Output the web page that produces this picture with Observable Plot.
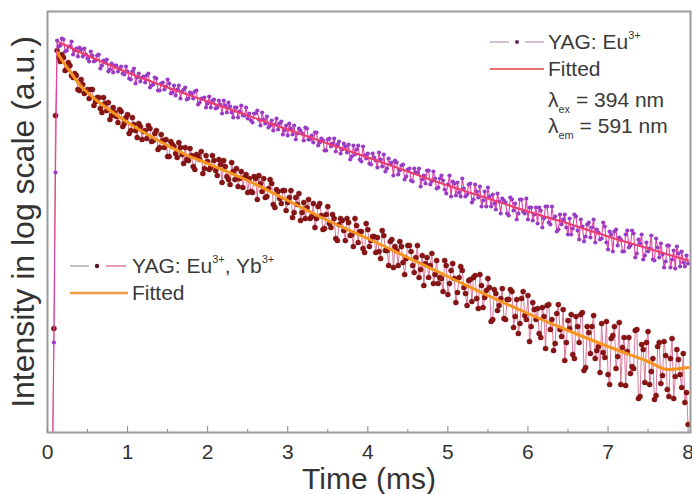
<!DOCTYPE html>
<html><head><meta charset="utf-8">
<script src="https://cdn.jsdelivr.net/npm/d3@7"></script>
<script src="https://cdn.jsdelivr.net/npm/@observablehq/plot@0.6"></script>
<style>
body{margin:0;background:#fff;}
#wrap{position:relative;width:692px;height:494px;font-family:"Liberation Sans",Arial,sans-serif;color:#3a3a3a;overflow:hidden;}
.lg{position:absolute;font-size:21px;line-height:24px;white-space:nowrap;}
.lg sup{font-size:11px;vertical-align:0;position:relative;top:-10px;}
.lg sub{font-size:11px;vertical-align:0;position:relative;top:6px;}
svg.s{position:absolute;overflow:visible;}
</style></head>
<body><div id="wrap"></div>
<script>
// sampling grids (ms): rise at the excitation pulse, then two interleaved sample sets
const riseTime = [0.06, 0.08, 0.10];
const gridTimeA = d3.range(198).map(i => +(0.12 + 0.04 * i).toFixed(2));
const gridTimeB = d3.range(197).map(i => +(0.14 + 0.04 * i).toFixed(2));

// log10 intensity (a.u.) — YAG: Eu3+
const riseEu = [-0.5, 0.90, 2.60];
const valuesEuA = [
 3.92,3.87,3.93,3.82,3.86,3.78,3.84,3.85,3.76,3.78,
 3.71,3.77,3.72,3.78,3.67,3.70,3.61,3.69,3.67,3.61,
 3.66,3.58,3.61,3.53,3.64,3.55,3.51,3.56,3.57,3.45,
 3.48,3.54,3.42,3.50,3.46,3.49,3.40,3.37,3.47,3.41,
 3.45,3.34,3.39,3.41,3.28,3.34,3.35,3.29,3.25,3.33,
 3.25,3.28,3.32,3.20,3.26,3.15,3.25,3.21,3.17,3.25,
 3.19,3.10,3.19,3.13,3.20,3.09,3.05,3.12,3.08,3.03,
 3.11,3.02,2.97,3.04,3.07,2.99,3.02,2.92,3.04,2.93,
 2.90,3.00,2.90,2.92,2.82,2.94,2.89,2.81,2.91,2.83,
 2.86,2.88,2.76,2.78,2.87,2.71,2.77,2.79,2.68,2.75,
 2.65,2.73,2.78,2.64,2.68,2.57,2.70,2.62,2.68,2.56,
 2.64,2.51,2.60,2.64,2.53,2.49,2.62,2.51,2.54,2.45,
 2.57,2.43,2.48,2.36,2.49,2.50,2.36,2.44,2.38,2.49,
 2.33,2.41,2.46,2.32,2.26,2.36,2.38,2.23,2.31,2.34,
 2.30,2.17,2.33,2.29,2.19,2.33,2.19,2.13,2.25,2.18,
 2.09,2.22,2.14,2.26,2.08,2.14,2.01,2.18,2.13,2.05,
 2.14,2.04,2.16,1.93,2.06,1.96,2.10,2.05,1.90,2.00,
 1.94,2.06,1.83,1.98,2.01,1.87,1.93,1.81,2.02,1.87,
 1.99,1.79,1.89,1.73,1.90,1.84,1.73,1.94,1.75,1.78,
 1.71,1.87,1.73,1.64,1.79,1.81,1.66,1.69
];
const valuesEuB = [
 3.86,3.94,3.81,3.86,3.91,3.82,3.76,3.83,3.84,3.74,
 3.81,3.71,3.77,3.64,3.72,3.73,3.63,3.60,3.67,3.64,
 3.59,3.66,3.54,3.61,3.49,3.59,3.55,3.50,3.59,3.47,
 3.55,3.42,3.49,3.43,3.53,3.39,3.47,3.43,3.34,3.43,
 3.33,3.40,3.34,3.42,3.30,3.34,3.25,3.36,3.32,3.24,
 3.32,3.19,3.27,3.30,3.20,3.25,3.15,3.27,3.17,3.14,
 3.12,3.19,3.22,3.07,3.13,3.16,3.07,3.02,3.14,3.09,
 2.98,3.07,3.09,2.98,2.93,3.04,2.99,3.05,2.93,2.97,
 3.00,2.87,2.94,2.82,2.93,2.86,2.94,2.88,2.79,2.89,
 2.80,2.73,2.87,2.83,2.73,2.86,2.74,2.69,2.79,2.72,
 2.80,2.66,2.61,2.74,2.70,2.72,2.58,2.67,2.53,2.63,
 2.52,2.64,2.60,2.46,2.57,2.62,2.48,2.61,2.44,2.54,
 2.52,2.39,2.57,2.51,2.37,2.40,2.54,2.36,2.48,2.30,
 2.48,2.35,2.26,2.41,2.45,2.26,2.29,2.39,2.19,2.32,
 2.19,2.35,2.22,2.13,2.33,2.21,2.34,2.25,2.12,2.25,
 2.25,2.05,2.26,2.10,2.26,2.16,2.03,2.08,2.18,1.98,
 1.98,2.18,2.02,2.13,1.91,2.08,1.95,2.13,2.03,1.93,
 2.10,1.90,2.01,1.81,2.03,1.95,1.81,1.98,1.85,2.02,
 1.75,1.93,1.98,1.77,1.81,1.97,1.72,1.85,1.89,1.65,
 1.87,1.65,1.82,1.86,1.66,1.70,1.77
];

// YAG: Eu3+, Yb3+
const riseEuYb = [-0.5, 1.04, 3.17];
const valuesEuYbA = [
 3.82,3.71,3.75,3.63,3.67,3.55,3.57,3.42,3.48,3.41,
 3.34,3.43,3.31,3.35,3.20,3.29,3.30,3.17,3.20,3.10,
 3.21,3.09,3.18,3.02,3.08,2.95,3.06,3.01,2.94,3.04,
 2.92,3.02,2.85,2.92,2.93,2.76,2.88,2.79,2.90,2.78,
 2.85,2.72,2.77,2.63,2.77,2.81,2.64,2.71,2.65,2.72,
 2.57,2.68,2.72,2.56,2.48,2.61,2.64,2.54,2.45,2.58,
 2.54,2.40,2.54,2.57,2.41,2.35,2.44,2.49,2.25,2.41,
 2.29,2.42,2.30,2.42,2.20,2.28,2.12,2.30,2.25,2.14,
 2.29,2.14,2.29,2.03,2.18,2.09,2.18,1.94,2.08,2.12,
 1.92,2.10,1.98,2.14,1.90,2.01,1.80,2.03,1.92,1.96,
 1.95,1.74,1.97,1.82,1.91,1.65,1.82,1.91,1.70,1.74,
 1.87,1.67,1.75,1.55,1.77,1.69,1.55,1.79,1.58,1.49,
 1.54,1.72,1.38,1.62,1.54,1.40,1.66,1.45,1.27,1.53,
 1.55,1.34,1.58,1.25,1.42,1.45,1.13,1.39,1.27,1.44,
 1.13,1.33,1.41,1.16,0.99,1.34,1.17,1.37,1.06,1.23,
 1.24,0.95,1.16,1.27,1.03,0.82,1.19,1.03,1.23,0.90,
 1.04,0.78,1.16,0.90,1.20,0.65,1.00,1.06,0.74,0.86,
 1.09,0.75,0.58,0.94,1.06,0.76,0.48,0.95,0.81,0.59,
 0.64,1.03,0.36,0.83,0.90,0.48,0.74,0.37,0.90,0.57,
 0.77,0.36,0.94,0.56,0.73,0.45,0.30,0.08
];
const valuesEuYbB = [
 3.75,3.78,3.62,3.70,3.57,3.59,3.43,3.53,3.39,3.43,
 3.43,3.27,3.35,3.24,3.35,3.22,3.13,3.25,3.16,3.23,
 3.06,3.15,2.99,3.15,3.02,3.09,2.93,3.02,3.07,2.91,
 2.99,2.83,2.98,2.85,2.76,2.91,2.86,2.75,2.85,2.69,
 2.73,2.84,2.66,2.78,2.73,2.59,2.77,2.63,2.77,2.62,
 2.73,2.50,2.66,2.53,2.70,2.53,2.46,2.61,2.55,2.40,
 2.41,2.56,2.33,2.49,2.54,2.36,2.53,2.28,2.43,2.34,
 2.42,2.22,2.35,2.15,2.35,2.39,2.20,2.14,2.33,2.16,
 2.05,2.26,2.17,2.04,2.26,2.05,2.14,1.92,2.14,2.02,
 2.14,1.97,1.86,2.07,2.01,1.84,2.09,1.86,1.96,1.80,
 1.81,2.02,1.82,1.67,1.93,1.86,1.67,1.86,1.58,1.87,
 1.81,1.60,1.87,1.63,1.47,1.75,1.67,1.49,1.72,1.55,
 1.41,1.67,1.49,1.69,1.30,1.55,1.62,1.39,1.52,1.31,
 1.57,1.24,1.47,1.35,1.54,1.11,1.43,1.22,1.34,1.14,
 1.33,1.43,1.05,1.33,1.09,1.41,1.13,0.91,1.30,1.13,
 0.99,1.25,0.84,1.28,1.13,0.89,1.28,0.96,0.72,1.12,
 1.18,0.74,1.06,1.18,0.62,1.06,0.79,1.17,0.82,0.60,
 0.80,1.11,0.48,0.97,0.64,1.10,0.85,0.47,0.95,0.66,
 1.02,0.34,0.88,0.50,1.01,0.61,0.33,0.86,0.49,0.91,
 0.43,0.74,0.34,0.83,0.58,0.79,0.40
];

// fitted curves
const fitTimeEu = [0.15,0.5,1.0,1.5,2.0,2.5,3.0,3.5,4.0,4.5,5.0,5.5,6.0,6.5,7.0,7.5,8.0];
const fitEu = [3.90,3.77,3.60,3.45,3.31,3.17,3.03,2.89,2.75,2.61,2.47,2.34,2.21,2.09,1.96,1.84,1.72];
const fitTimeEuYb = [0.12,0.2,0.3,0.4,0.5,0.6,0.8,1.0,1.25,1.5,1.75,2.0,2.5,3.0,3.5,4.0,4.5,5.0,5.5,6.0,6.5,7.0,7.5,7.75,8.0];
const fitEuYb = [3.80,3.70,3.59,3.48,3.40,3.33,3.21,3.10,2.98,2.87,2.77,2.69,2.52,2.32,2.12,1.94,1.75,1.56,1.37,1.19,1.02,0.86,0.71,0.63,0.65];

const xMajor = [0,1,2,3,4,5,6,7,8];
const xMinor = [0.5,1.5,2.5,3.5,4.5,5.5,6.5,7.5];

function series(rise, a, b) {
  const rows = riseTime.map((t,i) => ({t, v: rise[i]}))
    .concat(gridTimeA.map((t,i) => ({t, v: a[i]})))
    .concat(gridTimeB.map((t,i) => ({t, v: b[i]})));
  return rows.sort((p, q) => p.t - q.t);
}
const eu = series(riseEu, valuesEuA, valuesEuB);
const euyb = series(riseEuYb, valuesEuYbA, valuesEuYbB);
const fEu = fitTimeEu.map((t,i) => ({t, v: fitEu[i]}));
const fEuYb = fitTimeEuYb.map((t,i) => ({t, v: fitEuYb[i]}));

const plot = Plot.plot({
  width: 692, height: 494,
  marginLeft: 47, marginRight: 2, marginTop: 11, marginBottom: 62,
  style: {fontFamily: "'Liberation Sans', Arial, sans-serif", color: "#333", background: "#fff"},
  x: {domain: [0, 8.03], label: null},
  y: {domain: [0, 4.21], axis: null},
  marks: [
    Plot.line(euyb, {x: "t", y: "v", stroke: "#d66a92", strokeWidth: 0.9, clip: true}),
    Plot.dot(euyb, {x: "t", y: "v", r: 2.6, fill: "#8a1414", stroke: "#6a0c0c", strokeWidth: 0.4, clip: true}),
    Plot.line(fEuYb, {x: "t", y: "v", curve: "monotone-x", stroke: "#f7941d", strokeWidth: 3, clip: true}),
    Plot.line(eu, {x: "t", y: "v", stroke: "#e0409c", strokeWidth: 1.1, clip: true}),
    Plot.dot(eu, {x: "t", y: "v", r: 2.1, fill: "#9a3cc6", clip: true}),
    Plot.line(fEu, {x: "t", y: "v", curve: "monotone-x", stroke: "#ea3c6e", strokeWidth: 2, clip: true}),
    Plot.frame({stroke: "#9a9a9a", strokeWidth: 2}),
    Plot.axisX({ticks: xMinor, tickSize: 3, dy: -3, tickFormat: () => "", stroke: "#888", label: null}),
    Plot.axisX({ticks: xMajor, tickSize: 6, dy: -6, tickFormat: () => "", stroke: "#888", label: null}),
    Plot.axisX({ticks: xMajor, tickSize: 0, tickPadding: 12, fontSize: 21, label: null, fill: "#333"}),
    Plot.text(["Time (ms)"], {frameAnchor: "bottom", dy: 56, fontSize: 30, fill: "#333"}),
    Plot.text(["Intensity in log scale (a.u.)"], {frameAnchor: "left", textAnchor: "middle", rotate: -90, dx: -24, fontSize: 32, fill: "#333"})
  ]
});
const wrap = document.getElementById("wrap");
wrap.appendChild(plot);

wrap.insertAdjacentHTML("beforeend", `
<svg class="s" style="left:0;top:0" width="692" height="494">
  <line x1="490" y1="42" x2="509" y2="42" stroke="#c9a8c8" stroke-width="1.5"/>
  <circle cx="517" cy="42" r="2" fill="#6a2a5a"/>
  <line x1="525" y1="42" x2="544" y2="42" stroke="#c9a8c8" stroke-width="1.5"/>
  <line x1="490" y1="69" x2="544" y2="69" stroke="#e87070" stroke-width="2"/>
  <line x1="70" y1="266" x2="89" y2="266" stroke="#a8a8b0" stroke-width="1.5"/>
  <circle cx="97" cy="266" r="2.2" fill="#5a1020"/>
  <line x1="106" y1="266" x2="126" y2="266" stroke="#e07898" stroke-width="1.5"/>
  <line x1="70" y1="293" x2="128" y2="293" stroke="#f0a040" stroke-width="2.5"/>
</svg>
<div class="lg" style="left:548px;top:30px">YAG: Eu<sup>3+</sup></div>
<div class="lg" style="left:548px;top:57px">Fitted</div>
<div class="lg" style="left:548px;top:88px">λ<sub>ex</sub> = 394 nm</div>
<div class="lg" style="left:548px;top:114px">λ<sub>em</sub> = 591 nm</div>
<div class="lg" style="left:132px;top:254px">YAG: Eu<sup>3+</sup>, Yb<sup>3+</sup></div>
<div class="lg" style="left:132px;top:281px">Fitted</div>
`);
</script>
</body></html>
